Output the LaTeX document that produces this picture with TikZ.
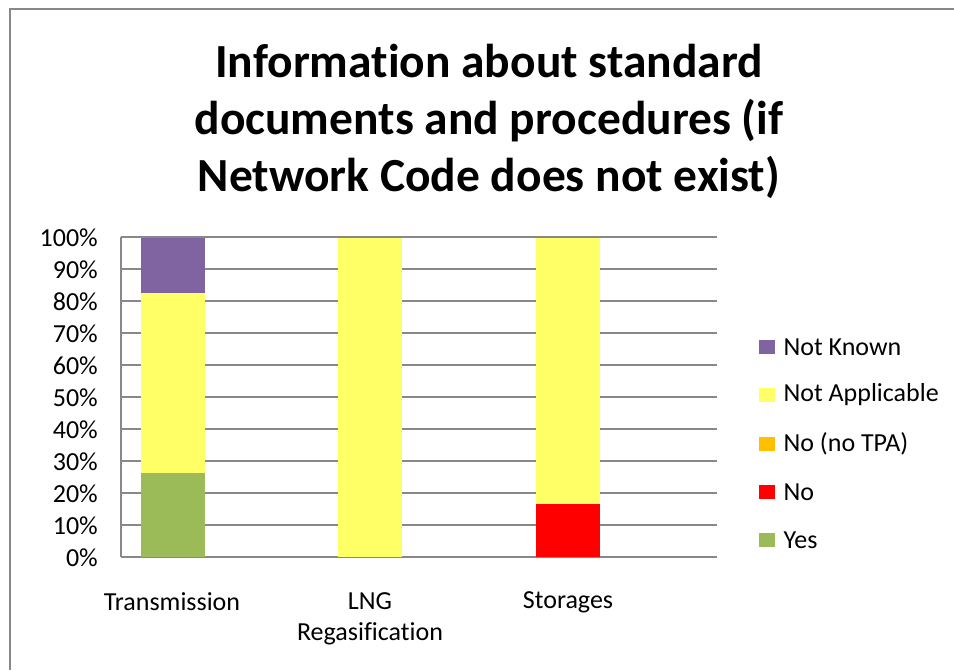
\documentclass[tikz,border=0pt]{standalone}
\usepackage{fontspec}
\setmainfont{Carlito}[Ligatures=CommonOff]
\usepackage{xcolor}
\usepackage{tikz}
\usetikzlibrary{positioning}
\definecolor{nkpurple}{HTML}{8064A2}
\definecolor{nayellow}{HTML}{FFFF66}
\definecolor{tpaorange}{HTML}{FFC000}
\definecolor{nored}{HTML}{FF0000}
\definecolor{yesgreen}{HTML}{9BBB59}
\definecolor{gridgray}{HTML}{888888}

\begin{document}
\begin{tikzpicture}[x=1pt,y=-1pt]
\tikzset{
  ttl/.style={align=center,inner sep=0pt,font=\fontsize{47.5}{57}\selectfont\bfseries},
  lbl/.style={inner sep=0pt,font=\fontsize{26}{31}\selectfont},
  grd/.style={draw=gridgray,line width=2pt},
  key/.style={rectangle,minimum width=16pt,minimum height=14pt,inner sep=0pt,anchor=west}
}
\useasboundingbox (0,0) rectangle (954,670);
\fill[white] (0,0) rectangle (954,670);
% frame
\draw[gridgray,line width=2pt] (954,9) -- (10,9) -- (10,670);
\node[ttl] (title) at (489,121) {Information about standard\\documents and procedures (if\\Network Code does not exist)};
% grid and y labels
\foreach \p in {0,10,...,100}{
  \draw[grd] (121,557-3.2*\p) -- (717,557-3.2*\p);
  \node[lbl,anchor=east] (y\p) at (98,558-3.2*\p) {\p\%};
}
\draw[grd] (121,237) -- (121,557);
% bars
\fill[yesgreen]  (141,557) rectangle (205,473);
\fill[nayellow]  (141,473) rectangle (205,293);
\fill[nkpurple]  (141,293) rectangle (205,238);
\fill[nayellow]  (338,557) rectangle (402,238);
\fill[nored]     (536,557) rectangle (600,504);
\fill[nayellow]  (536,504) rectangle (600,238);
% categories
\node[lbl] (trans) at (172,602) {Transmission};
\node[lbl,align=center] (lng) at (370,619) {LNG\\Regasification};
\node[lbl] (stor) at (568,602) {Storages};
% legend
\node[key,fill=nkpurple]  (k1) at (759,347) {};
\node[key,fill=nayellow]  (k2) at (759,395) {};
\node[key,fill=tpaorange] (k3) at (759,444) {};
\node[key,fill=nored]     (k4) at (759,492) {};
\node[key,fill=yesgreen]  (k5) at (759,540) {};
\node[lbl,right=8pt of k1] (t1) {Not Known};
\node[lbl,right=8pt of k2] (t2) {Not Applicable};
\node[lbl,right=8pt of k3] (t3) {No (no TPA)};
\node[lbl,right=8pt of k4] (t4) {No};
\node[lbl,right=8pt of k5] (t5) {Yes};
\end{tikzpicture}
\end{document}
